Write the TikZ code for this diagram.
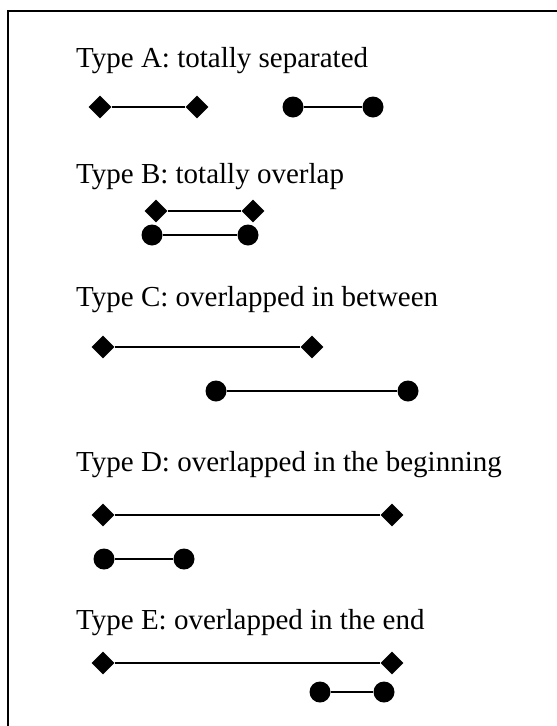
\documentclass[tikz,border=0pt]{standalone}
\usepackage{fontspec}
\setmainfont{Liberation Serif}
\usetikzlibrary{shapes.geometric}
\tikzset{
  dia/.style={diamond, fill=black, inner sep=0pt, minimum size=23pt},
  dot/.style={circle, fill=black, inner sep=0pt, minimum size=21pt},
  seg/.style={line width=2.6pt},
  lbl/.style={anchor=base west, inner sep=0pt, font=\fontsize{29}{34}\selectfont},
  frame/.style={line width=2pt}
}
\begin{document}
\begin{tikzpicture}[x=1pt,y=-1pt]
\useasboundingbox (0,0) rectangle (557,726);
\coordinate (fbl) at (8,727);
\coordinate (ftl) at (8,11);
\coordinate (ftr) at (558,11);
\draw[frame] (fbl) -- (ftl) -- (ftr);
% Type A
\node[lbl] (ta) at (76,67) {Type A: totally separated};
\node[dia] (a1) at (100,107) {};
\node[dia] (a2) at (197,107) {};
\node[dot] (a3) at (293,107) {};
\node[dot] (a4) at (373,107) {};
\draw[seg] (a1) -- (a2);
\draw[seg] (a3) -- (a4);
% Type B
\node[lbl] (tb) at (76,183) {Type B: totally overlap};
\node[dia] (b1) at (156,211) {};
\node[dia] (b2) at (253,211) {};
\node[dot] (b3) at (152,235) {};
\node[dot] (b4) at (248,235) {};
\draw[seg] (b1) -- (b2);
\draw[seg] (b3) -- (b4);
% Type C
\node[lbl] (tc) at (76,306) {Type C: overlapped in between};
\node[dia] (c1) at (103,347) {};
\node[dia] (c2) at (312,347) {};
\node[dot] (c3) at (216,391) {};
\node[dot] (c4) at (408,391) {};
\draw[seg] (c1) -- (c2);
\draw[seg] (c3) -- (c4);
% Type D
\node[lbl] (td) at (76,471) {Type D: overlapped in the beginning};
\node[dia] (d1) at (103,515) {};
\node[dia] (d2) at (392,515) {};
\node[dot] (d3) at (104,559) {};
\node[dot] (d4) at (184,559) {};
\draw[seg] (d1) -- (d2);
\draw[seg] (d3) -- (d4);
% Type E
\node[lbl] (te) at (76,629) {Type E: overlapped in the end};
\node[dia] (e1) at (103,663) {};
\node[dia] (e2) at (392,663) {};
\node[dot] (e3) at (320,692) {};
\node[dot] (e4) at (384,692) {};
\draw[seg] (e1) -- (e2);
\draw[seg] (e3) -- (e4);
\end{tikzpicture}
\end{document}
